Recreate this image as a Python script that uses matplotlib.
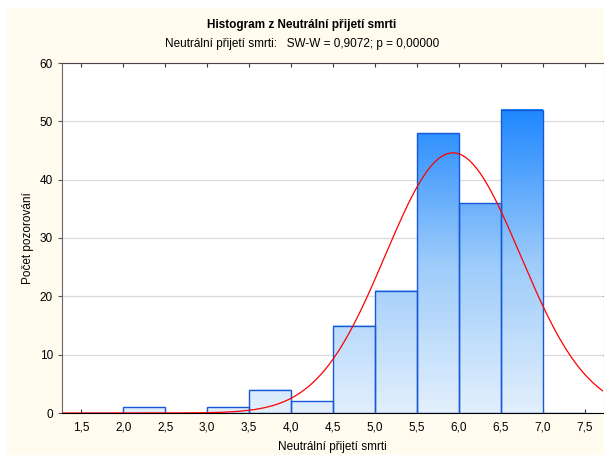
import numpy as np
import matplotlib.pyplot as plt
from matplotlib.colors import LinearSegmentedColormap
from matplotlib.patches import Rectangle

plt.rcParams['font.family'] = ['Liberation Sans', 'DejaVu Sans']

# Data
bin_edges = [1.5, 2.0, 2.5, 3.0, 3.5, 4.0, 4.5, 5.0, 5.5, 6.0, 6.5, 7.0, 7.5]
counts = [0, 1, 0, 1, 4, 2, 15, 21, 48, 36, 52, 0]
fit_mean = 5.93
fit_sd = 0.805
x_ticks = [1.5, 2.0, 2.5, 3.0, 3.5, 4.0, 4.5, 5.0, 5.5, 6.0, 6.5, 7.0, 7.5]
y_ticks = [0, 10, 20, 30, 40, 50, 60]

bg = '#FFFBEF'
fig = plt.figure(figsize=(6.04, 4.55), dpi=100)
fig.patch.set_facecolor('white')
fig.add_artist(Rectangle((7 / 604, 0), 597 / 604, 1 - 8 / 455,
                         transform=fig.transFigure, color=bg, zorder=-10))
ax = fig.add_axes([62 / 604, 1 - 413 / 455, 541 / 604, 350 / 455])
ax.set_facecolor('white')

cmap = LinearSegmentedColormap.from_list('bl', ['#E2EFFD', '#9CCBFA', '#2088FF'])
top_ref = 52.0
width = bin_edges[1] - bin_edges[0]
for i, c in enumerate(counts):
    x0 = bin_edges[i]
    if c > 0:
        grad = np.linspace(0, c / top_ref, 64).reshape(-1, 1)
        ax.imshow(grad, extent=(x0, x0 + width, 0, c), origin='lower',
                  cmap=cmap, vmin=0, vmax=1, aspect='auto', zorder=2)
ax.bar(bin_edges[:-1], counts, width=width, align='edge', fill=False,
       edgecolor='#1858D8', linewidth=1.0, zorder=3)

n_total = sum(counts)
xs = np.linspace(1.27, 7.72, 400)
ys = n_total * width / (fit_sd * np.sqrt(2 * np.pi)) * np.exp(-0.5 * ((xs - fit_mean) / fit_sd) ** 2)
ax.plot(xs, ys, color='#FF0000', linewidth=0.9, zorder=4)

ax.set_xlim(1.27, 7.72)
ax.set_ylim(0, 60)
ax.set_xticks(x_ticks)
ax.set_xticklabels([f'{t:.1f}'.replace('.', ',') for t in x_ticks], fontsize=8.5)
ax.set_yticks(y_ticks)
ax.set_yticklabels([str(t) for t in y_ticks], fontsize=8.5)
ax.yaxis.grid(True, color='#DADADA', linewidth=0.9, zorder=0)
ax.set_axisbelow(True)
ax.tick_params(axis='y', which='both', direction='out', length=3, color='#555555',
               right=True, labelright=False)
ax.tick_params(axis='x', direction='in', length=3, top=True, color='#333333', pad=6)
ax.spines['right'].set_visible(False)
ax.spines['left'].set_color('#666666')
ax.spines['top'].set_color('#444444')
ax.spines['bottom'].set_color('#000000')

ax.set_xlabel('Neutrální přijetí smrti', fontsize=8.5, va='center')
ax.xaxis.set_label_coords(0.5, -0.097)
ax.set_ylabel('Počet pozorování', fontsize=8.5, va='center')
ax.yaxis.set_label_coords(-0.063, 0.5)
fig.text(0.5, 1 - 25 / 455, 'Histogram z Neutrální přijetí smrti', ha='center',
         va='center', fontsize=8.5, fontweight='bold')
fig.text(0.5, 1 - 44 / 455, 'Neutrální přijetí smrti:   SW-W = 0,9072; p = 0,00000',
         ha='center', va='center', fontsize=8.5)

fig.savefig('out.png', dpi=100, facecolor=fig.get_facecolor())
